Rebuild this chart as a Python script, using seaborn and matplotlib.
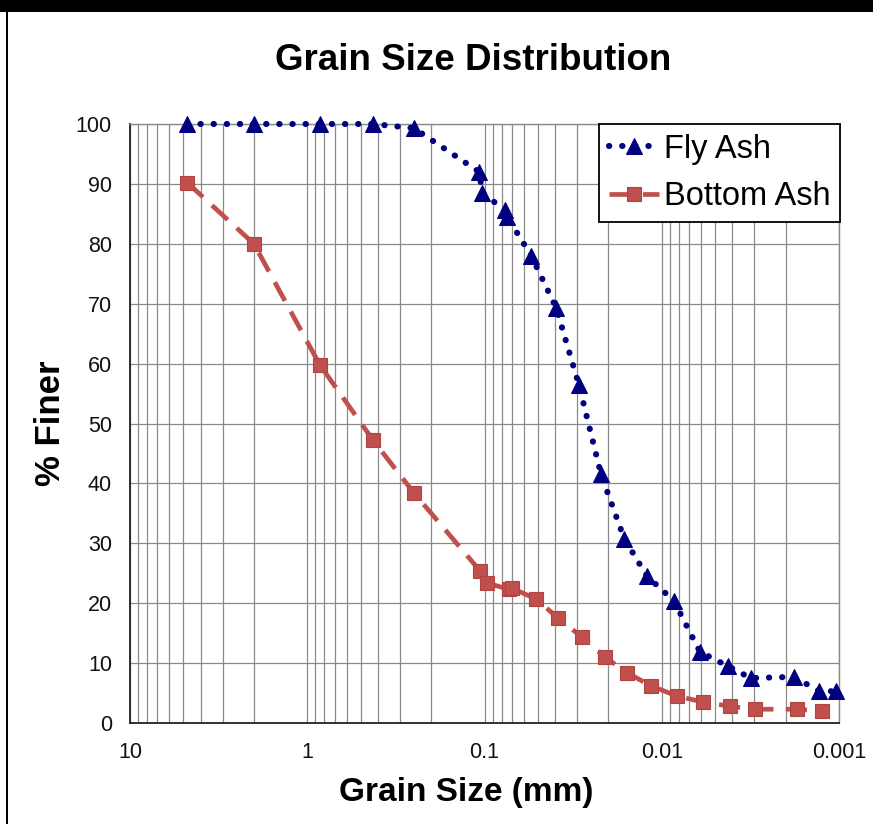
import matplotlib
matplotlib.use("Agg")
import matplotlib.pyplot as plt
import seaborn as sns
import numpy as np
import pandas as pd
from matplotlib.patches import Rectangle
from matplotlib.ticker import LogLocator, FixedLocator, NullFormatter

# ---------------- data ----------------
fly_size = [4.75, 2.0, 0.85, 0.425, 0.25, 0.107, 0.103, 0.0764, 0.0744, 0.0545,
            0.0394, 0.0293, 0.0220, 0.0163, 0.0121, 0.00854, 0.00610, 0.00424,
            0.00315, 0.00180, 0.00129, 0.00104]
fly_finer = [100, 100, 100, 100, 99.3, 92.0, 88.5, 85.6, 84.5, 78.0,
             69.3, 56.4, 41.5, 30.8, 24.5, 20.4, 11.9, 9.5,
             7.5, 7.7, 5.3, 5.3]

bottom_size = [4.75, 2.0, 0.85, 0.425, 0.25, 0.106, 0.0968, 0.0731, 0.0700,
               0.0511, 0.0384, 0.0281, 0.0209, 0.0157, 0.0115, 0.0082,
               0.00586, 0.00413, 0.00299, 0.00173, 0.00125]
bottom_finer = [90.2, 80.0, 59.8, 47.2, 38.4, 25.4, 23.4, 22.3, 22.5,
                20.7, 17.5, 14.3, 11.0, 8.4, 6.2, 4.5,
                3.5, 2.8, 2.3, 2.3, 2.0]

series_names = ["Fly Ash", "Bottom Ash"]
x_ticks = [10, 1, 0.1, 0.01, 0.001]
x_tick_labels = ["10", "1", "0.1", "0.01", "0.001"]
y_ticks = [0, 10, 20, 30, 40, 50, 60, 70, 80, 90, 100]

title = "Grain Size Distribution"
xlabel = "Grain Size (mm)"
ylabel = "% Finer"

# ---------------- style ----------------
sns.set_style("white")
plt.rcParams["font.family"] = ["Liberation Sans", "DejaVu Sans"]

fig = plt.figure(figsize=(8.73, 8.24), dpi=100)
ax = fig.add_axes([130 / 873, 1 - 723 / 824, (839 - 130) / 873, (723 - 124) / 824])

navy = "#000080"
red = "#C0504D"

sns.lineplot(x=fly_size, y=fly_finer, ax=ax, sort=False, estimator=None,
             color=navy, lw=4.4, linestyle=(0, (0.05, 2.1)),
             dash_capstyle="round", marker="^", markersize=11,
             markerfacecolor=navy, markeredgecolor=navy,
             label=series_names[0], clip_on=False, zorder=3)
sns.lineplot(x=bottom_size, y=bottom_finer, ax=ax, sort=False, estimator=None,
             color=red, lw=3.4, linestyle=(0, (4.5, 2.6)),
             marker="s", markersize=10.5,
             markerfacecolor=red, markeredgecolor="#B24440", markeredgewidth=0.8,
             label=series_names[1], clip_on=False, zorder=4)

ax.set_xscale("log")
ax.set_xlim(10, 0.001)
ax.set_ylim(0, 100)

ax.xaxis.set_major_locator(FixedLocator(x_ticks))
ax.set_xticklabels(x_tick_labels)
ax.xaxis.set_minor_locator(LogLocator(base=10, subs=np.arange(2, 10)))
ax.xaxis.set_minor_formatter(NullFormatter())
ax.set_yticks(y_ticks)

grid_c = "#8a8a8a"
ax.grid(True, which="major", axis="both", color=grid_c, lw=0.9)
ax.grid(True, which="minor", axis="x", color=grid_c, lw=0.9)
ax.set_axisbelow(True)

for s in ["left", "bottom"]:
    ax.spines[s].set_color("#222222")
    ax.spines[s].set_linewidth(1.3)
for s in ["top", "right"]:
    ax.spines[s].set_color(grid_c)
    ax.spines[s].set_linewidth(1.0)

ax.tick_params(axis="both", which="major", direction="out", length=5,
               width=1.0, color="#222222", labelsize=15.5, labelcolor="#111111")
ax.tick_params(axis="x", which="major", pad=9)
ax.tick_params(axis="y", which="major", pad=8)
ax.tick_params(axis="x", which="minor", length=0)

fig.text(473 / 873, 1 - 61 / 824, title, ha="center", va="center",
         fontsize=26.5, fontweight="bold", color="black")
ax.set_xlabel(xlabel, fontsize=24, fontweight="bold", color="black")
ax.set_ylabel(ylabel, fontsize=25, fontweight="bold", color="black")
ax.xaxis.set_label_coords((466 - 130) / (839 - 130), -(793 - 723) / (723 - 124))
ax.yaxis.set_label_coords(-(130 - 50) / (839 - 130), (723 - 423) / (723 - 124))
ax.xaxis.label.set_va("center")
ax.yaxis.label.set_va("center")

leg = ax.legend(loc="upper right", bbox_to_anchor=(1.002, 1.0), borderaxespad=0,
                fontsize=23.5, frameon=True, fancybox=False, framealpha=1,
                edgecolor="black", handlelength=1.55, handletextpad=0.15,
                borderpad=0.3, labelspacing=0.5)
leg.get_frame().set_linewidth(1.3)
for t in leg.get_texts():
    t.set_color("black")

# chart frame decoration
fig.add_artist(Rectangle((0, 1 - 12 / 824), 1, 12 / 824, transform=fig.transFigure,
                         facecolor="black", edgecolor="none"))
fig.add_artist(Rectangle((6 / 873, 0), 1.8 / 873, 1 - 12 / 824, transform=fig.transFigure,
                         facecolor="black", edgecolor="none"))

fig.savefig("out.png", dpi=100)
